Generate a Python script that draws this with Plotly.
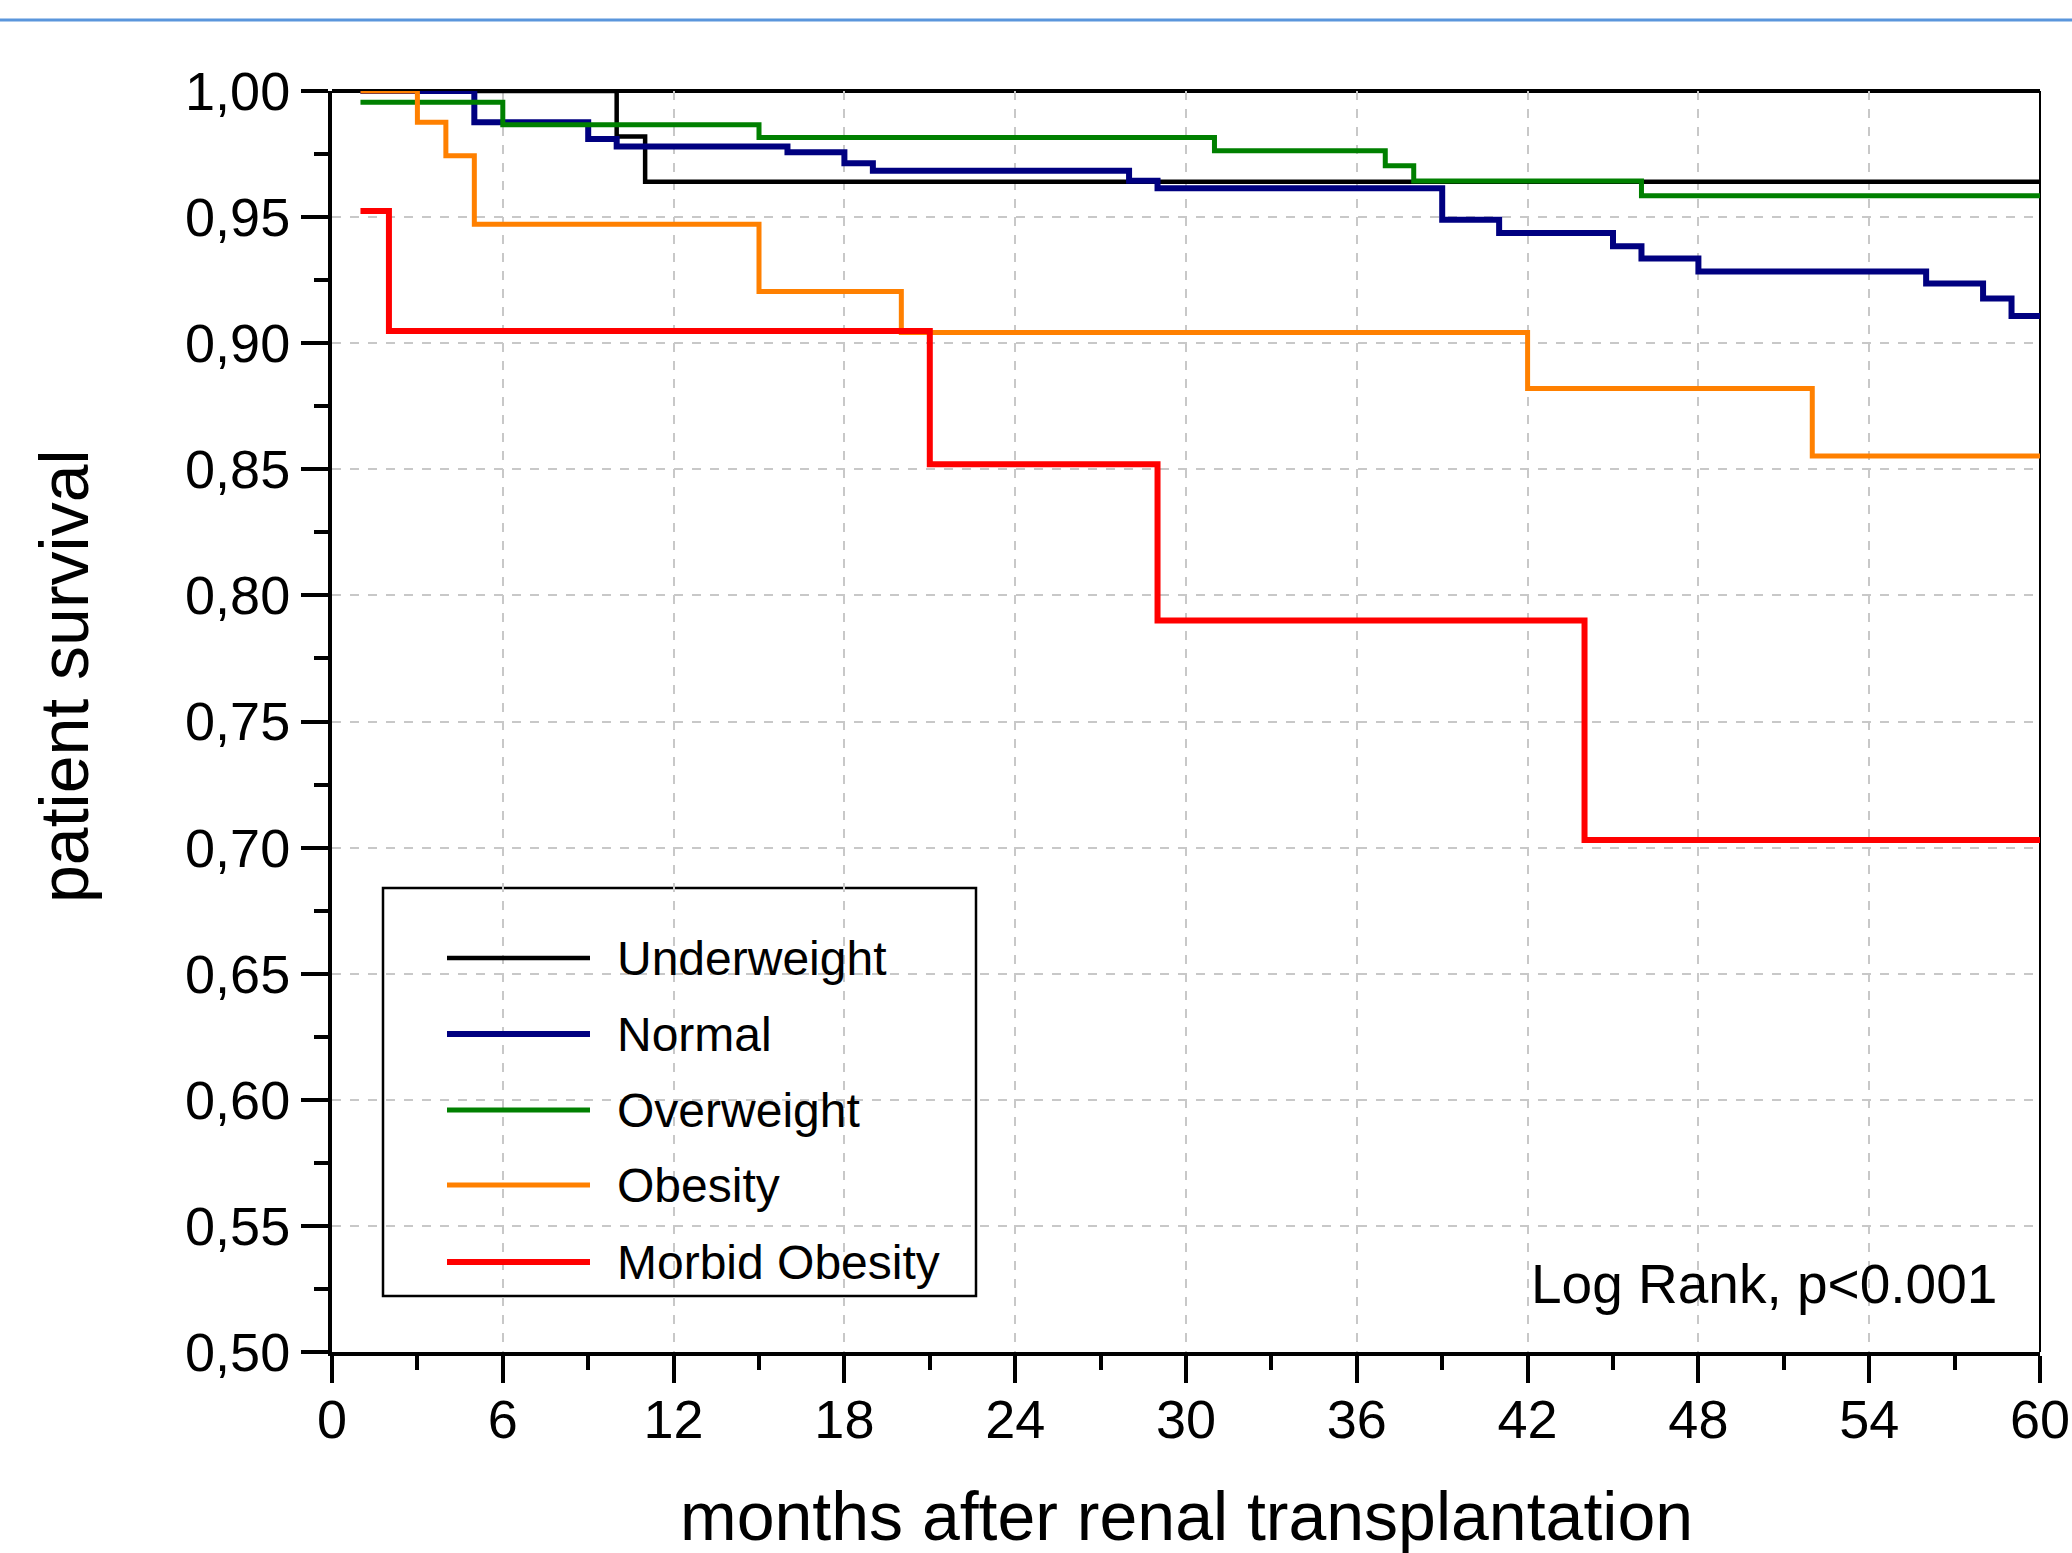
import plotly.graph_objects as go

# ---------------- data ----------------
series_names = ["Underweight", "Normal", "Overweight", "Obesity", "Morbid Obesity"]
series_colors = ["#000000", "#000080", "#008000", "#FF8000", "#FF0000"]
series_widths = [4.5, 6, 5, 5, 6]

underweight_t = [1, 10, 11, 60]
underweight_s = [1.000, 0.982, 0.964, 0.964]

normal_t = [1, 5, 9, 10, 16, 18, 19, 28, 29, 39, 41, 45, 46, 48, 56, 58, 59, 60]
normal_s = [1.000, 0.9876, 0.981, 0.978, 0.9757, 0.9714, 0.9684, 0.9644, 0.9614,
            0.9489, 0.9437, 0.9384, 0.9336, 0.9284, 0.9237, 0.9177, 0.9108, 0.9108]

overweight_t = [1, 6, 15, 31, 37, 38, 46, 60]
overweight_s = [0.9955, 0.9866, 0.9816, 0.9763, 0.9704, 0.9643, 0.9585, 0.9585]

obesity_t = [1, 3, 4, 5, 15, 20, 42, 52, 60]
obesity_s = [1.000, 0.9876, 0.9743, 0.9472, 0.9205, 0.9042, 0.882, 0.8553, 0.8553]

morbid_t = [1, 2, 21, 29, 44, 60]
morbid_s = [0.9524, 0.9048, 0.852, 0.790, 0.703, 0.703]

x_ticks = [0, 6, 12, 18, 24, 30, 36, 42, 48, 54, 60]
y_ticks = [0.50, 0.55, 0.60, 0.65, 0.70, 0.75, 0.80, 0.85, 0.90, 0.95, 1.00]

x_title = "months after renal transplantation"
y_title = "patient survival"
stat_text = "Log Rank, p<0.001"

all_t = [underweight_t, normal_t, overweight_t, obesity_t, morbid_t]
all_s = [underweight_s, normal_s, overweight_s, obesity_s, morbid_s]

# ---------------- layout geometry (pixels) ----------------
FW, FH = 2072, 1553
L, R, T, B = 332, 2040, 91, 1352
PW, PH = R - L, B - T


def px(x):
    return (x - L) / PW


def py(y):
    return (B - y) / PH


FONT = "Liberation Sans, Arial, sans-serif"

fig = go.Figure()
for name, t, s, c, w in zip(series_names, all_t, all_s, series_colors, series_widths):
    fig.add_trace(go.Scatter(x=t, y=s, mode="lines", name=name,
                             line=dict(color=c, width=w, shape="hv"),
                             showlegend=False))

axis_common = dict(
    showline=True, linecolor="black", linewidth=4,
    ticks="outside", ticklen=27, tickwidth=4, tickcolor="black",
    showgrid=True, gridcolor="#c8c8c8", gridwidth=2, griddash="dash",
    zeroline=False, automargin=False,
    tickfont=dict(family=FONT, size=54, color="black"),
)

fig.update_xaxes(range=[0, 60], tickvals=x_ticks, ticktext=[str(v) for v in x_ticks],
                 ticklabelstandoff=-10,
                 minor=dict(dtick=3, ticks="outside", ticklen=14, tickwidth=4,
                            tickcolor="black", showgrid=False),
                 **axis_common)
fig.update_yaxes(range=[0.5, 1.0], tickvals=y_ticks, tickformat=".2f",
                 minor=dict(dtick=0.025, ticks="outside", ticklen=14, tickwidth=4,
                            tickcolor="black", showgrid=False),
                 **axis_common)

shapes = []
# top page separator
shapes.append(dict(type="line", xref="paper", yref="paper",
                   x0=px(-20), x1=px(FW + 20), y0=py(20), y1=py(20),
                   line=dict(color="#5a96dc", width=3)))
# frame: top and right
shapes.append(dict(type="line", xref="paper", yref="paper", x0=0, x1=1, y0=1, y1=1,
                   line=dict(color="black", width=4), layer="between"))
shapes.append(dict(type="line", xref="paper", yref="paper", x0=1, x1=1, y0=0, y1=1,
                   line=dict(color="black", width=2), layer="between"))
# legend box
shapes.append(dict(type="rect", xref="paper", yref="paper",
                   x0=px(383), x1=px(976), y0=py(1296), y1=py(888),
                   line=dict(color="black", width=2.5), fillcolor="white", layer="between"))

annotations = []
row_y = [958, 1034, 1110, 1185, 1262]
for name, c, w, ry in zip(series_names, series_colors, series_widths, row_y):
    shapes.append(dict(type="line", xref="paper", yref="paper",
                       x0=px(447), x1=px(590), y0=py(ry), y1=py(ry),
                       line=dict(color=c, width=w)))
    annotations.append(dict(xref="paper", yref="paper", x=px(615), y=py(ry),
                            xanchor="left", yanchor="middle", showarrow=False,
                            text=name, font=dict(family=FONT, size=48, color="black")))

annotations.append(dict(xref="paper", yref="paper", x=px(1999), y=py(1284),
                        xanchor="right", yanchor="middle", showarrow=False,
                        text=stat_text, font=dict(family=FONT, size=55, color="black")))
annotations.append(dict(xref="paper", yref="paper", x=px(1186), y=py(1516),
                        xanchor="center", yanchor="middle", showarrow=False,
                        text=x_title, font=dict(family=FONT, size=68, color="black")))
annotations.append(dict(xref="paper", yref="paper", x=px(64), y=py(676),
                        xanchor="center", yanchor="middle", showarrow=False, textangle=-90,
                        text=y_title, font=dict(family=FONT, size=68, color="black")))

fig.update_layout(
    width=FW, height=FH,
    margin=dict(l=L, r=FW - R, t=T, b=FH - B, pad=0, autoexpand=False),
    paper_bgcolor="white", plot_bgcolor="white",
    separators=",.",
    shapes=shapes, annotations=annotations,
    font=dict(family=FONT, color="black"),
)

fig.write_html("out.html")
